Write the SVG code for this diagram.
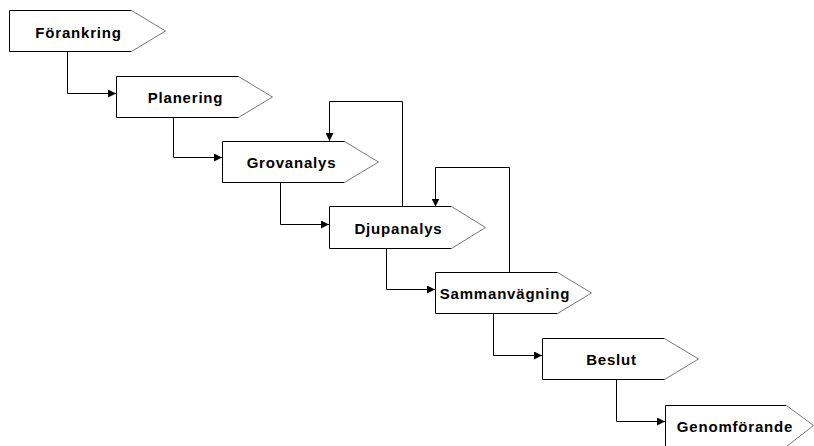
<svg xmlns="http://www.w3.org/2000/svg" width="814" height="446" viewBox="0 0 814 446">
<defs>
<style>
.bg{fill:#fff;stroke:none}
.sq{fill:none;stroke:#000;stroke-width:1}
.dg{fill:none;stroke:#777;stroke-width:1}
.lbl{font-family:"Liberation Sans",Arial,sans-serif;font-weight:bold;font-size:15px;letter-spacing:0.8px;fill:#000;text-anchor:middle}
.cn{fill:none;stroke:#000;stroke-width:1}
</style>
<marker id="ah" markerWidth="8" markerHeight="8" refX="8" refY="4" orient="auto" markerUnits="userSpaceOnUse">
<path d="M0,0 L8,4 L0,8 Z" fill="#000"/>
</marker>
</defs>
<rect width="814" height="446" fill="#fff"/>
<g id="connectors">
<path class="cn" d="M67.5,51.5 V93.5 H116" marker-end="url(#ah)"/>
<path class="cn" d="M173.5,117.5 V157.5 H222" marker-end="url(#ah)"/>
<path class="cn" d="M280.5,182.5 V224.5 H329" marker-end="url(#ah)"/>
<path class="cn" d="M386.5,248.5 V289.5 H435" marker-end="url(#ah)"/>
<path class="cn" d="M493.5,313.5 V355.5 H542" marker-end="url(#ah)"/>
<path class="cn" d="M616.5,379.5 V421.5 H665" marker-end="url(#ah)"/>
<path class="cn" d="M402.5,206.5 V101.5 H329.5 V141" marker-end="url(#ah)"/>
<path class="cn" d="M509.5,272.5 V167.5 H435.5 V206.5" marker-end="url(#ah)"/>
</g>
<g id="n1">
<polygon class="bg" points="9.5,10.5 131.5,10.5 165.5,31 131.5,51.5 9.5,51.5"/>
<path class="sq" d="M131.5,10.5 H9.5 V51.5 H131.5"/>
<path class="dg" d="M131.5,10.5 L165.5,31 L131.5,51.5"/>
<text class="lbl" x="78.5" y="37.5">Förankring</text>
</g>
<g id="n2">
<polygon class="bg" points="116.5,76.5 238.5,76.5 272.5,97 238.5,117.5 116.5,117.5"/>
<path class="sq" d="M238.5,76.5 H116.5 V117.5 H238.5"/>
<path class="dg" d="M238.5,76.5 L272.5,97 L238.5,117.5"/>
<text class="lbl" x="185.5" y="103">Planering</text>
</g>
<g id="n3">
<polygon class="bg" points="222.5,141.5 344.5,141.5 378.5,162 344.5,182.5 222.5,182.5"/>
<path class="sq" d="M344.5,141.5 H222.5 V182.5 H344.5"/>
<path class="dg" d="M344.5,141.5 L378.5,162 L344.5,182.5"/>
<text class="lbl" x="291.5" y="168">Grovanalys</text>
</g>
<g id="n4">
<polygon class="bg" points="329.5,206.5 451.5,206.5 485.5,227.5 451.5,248.5 329.5,248.5"/>
<path class="sq" d="M451.5,206.5 H329.5 V248.5 H451.5"/>
<path class="dg" d="M451.5,206.5 L485.5,227.5 L451.5,248.5"/>
<text class="lbl" x="398.5" y="233.5">Djupanalys</text>
</g>
<g id="n5">
<polygon class="bg" points="435.5,272.5 557.5,272.5 591.5,293 557.5,313.5 435.5,313.5"/>
<path class="sq" d="M557.5,272.5 H435.5 V313.5 H557.5"/>
<path class="dg" d="M557.5,272.5 L591.5,293 L557.5,313.5"/>
<text class="lbl" x="505" y="299">Sammanvägning</text>
</g>
<g id="n6">
<polygon class="bg" points="542.5,338.5 664.5,338.5 698.5,359 664.5,379.5 542.5,379.5"/>
<path class="sq" d="M664.5,338.5 H542.5 V379.5 H664.5"/>
<path class="dg" d="M664.5,338.5 L698.5,359 L664.5,379.5"/>
<text class="lbl" x="611.5" y="365">Beslut</text>
</g>
<g id="n7">
<polygon class="bg" points="665.5,405.5 786.5,405.5 813.5,425.5 786.5,446.5 665.5,446.5"/>
<path class="sq" d="M786.5,405.5 H665.5 V446.5 H786.5"/>
<path class="dg" d="M786.5,405.5 L813.5,425.5 L786.5,446.5"/>
<text class="lbl" x="735" y="432">Genomförande</text>
</g>
</svg>
